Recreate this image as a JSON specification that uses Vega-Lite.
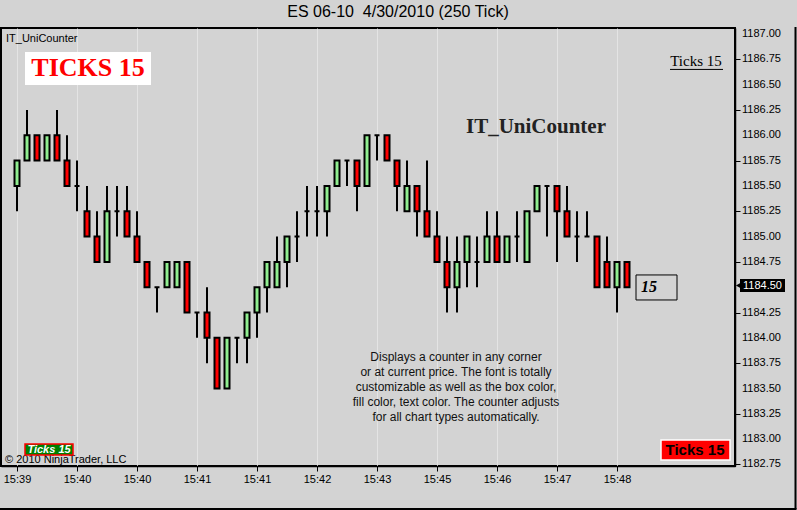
{
  "$schema": "https://vega.github.io/schema/vega-lite/v6.json",
  "width": 734,
  "height": 438,
  "autosize": {"type": "none"},
  "padding": {"left": 1, "top": 28, "right": 62, "bottom": 44},
  "background": "#D3D3D3",
  "title": {"text": "ES 06-10 \u00a04/30/2010 (250 Tick)", "fontSize": 16, "fontWeight": "normal", "font": "Liberation Sans", "color": "#000", "anchor": "middle", "frame": "group", "dx": 30, "offset": 6},
  "config": {
    "font": "Liberation Sans",
    "view": {"stroke": "#000", "strokeWidth": 2},
    "axis": {"labelColor": "#000", "domainColor": "#000", "tickColor": "#000", "labelFont": "Liberation Sans", "labelFontSize": 11, "labelOverlap": false, "labelFlush": false}
  },
  "datasets": {
    "priceTicks": [
      {"p":1182.75},{"p":1183},{"p":1183.25},{"p":1183.5},{"p":1183.75},{"p":1184},{"p":1184.25},{"p":1184.5},{"p":1184.75},
      {"p":1185},{"p":1185.25},{"p":1185.5},{"p":1185.75},{"p":1186},{"p":1186.25},{"p":1186.5},{"p":1186.75},{"p":1187}
    ]
  },
  "data": {"values": [
    {"i":0,"o":1185.5,"h":1185.75,"l":1185.25,"c":1185.75},
    {"i":1,"o":1185.75,"h":1186.25,"l":1185.75,"c":1186},
    {"i":2,"o":1186,"h":1186,"l":1185.75,"c":1185.75},
    {"i":3,"o":1185.75,"h":1186,"l":1185.75,"c":1186},
    {"i":4,"o":1186,"h":1186.25,"l":1185.75,"c":1185.75},
    {"i":5,"o":1185.75,"h":1186,"l":1185.5,"c":1185.5},
    {"i":6,"o":1185.5,"h":1185.75,"l":1185.25,"c":1185.5},
    {"i":7,"o":1185.25,"h":1185.5,"l":1185,"c":1185},
    {"i":8,"o":1185,"h":1185.25,"l":1184.75,"c":1184.75},
    {"i":9,"o":1184.75,"h":1185.5,"l":1184.75,"c":1185.25},
    {"i":10,"o":1185.25,"h":1185.5,"l":1185,"c":1185.25},
    {"i":11,"o":1185.25,"h":1185.5,"l":1185,"c":1185},
    {"i":12,"o":1185,"h":1185.25,"l":1184.75,"c":1184.75},
    {"i":13,"o":1184.75,"h":1184.75,"l":1184.5,"c":1184.5},
    {"i":14,"o":1184.5,"h":1184.5,"l":1184.25,"c":1184.5},
    {"i":15,"o":1184.5,"h":1184.75,"l":1184.5,"c":1184.75},
    {"i":16,"o":1184.5,"h":1184.75,"l":1184.5,"c":1184.75},
    {"i":17,"o":1184.75,"h":1184.75,"l":1184.25,"c":1184.25},
    {"i":18,"o":1184.25,"h":1184.25,"l":1184,"c":1184.25},
    {"i":19,"o":1184.25,"h":1184.5,"l":1183.75,"c":1184},
    {"i":20,"o":1184,"h":1184,"l":1183.5,"c":1183.5},
    {"i":21,"o":1183.5,"h":1184,"l":1183.5,"c":1184},
    {"i":22,"o":1184,"h":1184,"l":1183.75,"c":1184},
    {"i":23,"o":1184,"h":1184.25,"l":1183.75,"c":1184.25},
    {"i":24,"o":1184.25,"h":1184.5,"l":1184,"c":1184.5},
    {"i":25,"o":1184.5,"h":1184.75,"l":1184.25,"c":1184.75},
    {"i":26,"o":1184.5,"h":1185,"l":1184.5,"c":1184.75},
    {"i":27,"o":1184.75,"h":1185,"l":1184.5,"c":1185},
    {"i":28,"o":1185,"h":1185.25,"l":1184.75,"c":1185},
    {"i":29,"o":1185.25,"h":1185.5,"l":1185,"c":1185.25},
    {"i":30,"o":1185.25,"h":1185.5,"l":1185,"c":1185.25},
    {"i":31,"o":1185.25,"h":1185.5,"l":1185,"c":1185.5},
    {"i":32,"o":1185.5,"h":1185.75,"l":1185.5,"c":1185.75},
    {"i":33,"o":1185.75,"h":1185.75,"l":1185.5,"c":1185.75},
    {"i":34,"o":1185.75,"h":1185.75,"l":1185.25,"c":1185.5},
    {"i":35,"o":1185.5,"h":1186,"l":1185.5,"c":1186},
    {"i":36,"o":1186,"h":1186,"l":1185.75,"c":1186},
    {"i":37,"o":1186,"h":1186,"l":1185.75,"c":1185.75},
    {"i":38,"o":1185.75,"h":1185.75,"l":1185.25,"c":1185.5},
    {"i":39,"o":1185.25,"h":1185.75,"l":1185.25,"c":1185.5},
    {"i":40,"o":1185.5,"h":1185.5,"l":1185,"c":1185.25},
    {"i":41,"o":1185.25,"h":1185.75,"l":1185,"c":1185},
    {"i":42,"o":1185,"h":1185.25,"l":1184.75,"c":1184.75},
    {"i":43,"o":1184.75,"h":1185,"l":1184.25,"c":1184.5},
    {"i":44,"o":1184.5,"h":1185,"l":1184.25,"c":1184.75},
    {"i":45,"o":1184.75,"h":1185,"l":1184.5,"c":1185},
    {"i":46,"o":1184.75,"h":1185,"l":1184.5,"c":1184.75},
    {"i":47,"o":1184.75,"h":1185.25,"l":1184.75,"c":1185},
    {"i":48,"o":1185,"h":1185.25,"l":1184.75,"c":1184.75},
    {"i":49,"o":1184.75,"h":1185,"l":1184.75,"c":1185},
    {"i":50,"o":1185,"h":1185.25,"l":1184.75,"c":1185},
    {"i":51,"o":1184.75,"h":1185.25,"l":1184.75,"c":1185.25},
    {"i":52,"o":1185.25,"h":1185.5,"l":1185.25,"c":1185.5},
    {"i":53,"o":1185.5,"h":1185.5,"l":1185,"c":1185.5},
    {"i":54,"o":1185.5,"h":1185.5,"l":1184.75,"c":1185.25},
    {"i":55,"o":1185.25,"h":1185.5,"l":1185,"c":1185},
    {"i":56,"o":1185,"h":1185.25,"l":1184.75,"c":1185},
    {"i":57,"o":1185,"h":1185.25,"l":1185,"c":1185},
    {"i":58,"o":1185,"h":1185,"l":1184.5,"c":1184.5},
    {"i":59,"o":1184.75,"h":1185,"l":1184.5,"c":1184.5},
    {"i":60,"o":1184.5,"h":1184.75,"l":1184.25,"c":1184.75},
    {"i":61,"o":1184.75,"h":1184.75,"l":1184.5,"c":1184.5}
  ]},
  "layer": [
    {
      "mark": {"type": "rule", "color": "#000", "strokeWidth": 2},
      "encoding": {
        "x": {"field": "i", "type": "quantitative",
              "scale": {"domain": [-1.6, 71.8], "zero": false, "nice": false, "padding": 0},
              "axis": {"orient": "bottom", "title": null, "values": [0,6,12,18,24,30,36,42,48,54,60], "labelExpr": "['15:39','15:40','15:40','15:41','15:41','15:42','15:43','15:45','15:46','15:47','15:48'][round(datum.value/6)]", "grid": true, "gridColor": "#E4E4E4", "gridWidth": 1, "tickSize": 5, "labelPadding": 2, "domainWidth": 1.5, "labelOverlap": false, "labelFlush": false}},
        "y": {"field": "l", "type": "quantitative",
              "scale": {"domain": [1182.735, 1187.059], "zero": false, "nice": false},
              "axis": {"orient": "right", "title": null, "values": [1182.75,1183,1183.25,1183.5,1183.75,1184,1184.25,1184.5,1184.75,1185,1185.25,1185.5,1185.75,1186,1186.25,1186.5,1186.75,1187], "labels": false, "grid": false, "tickSize": 5, "domainWidth": 1.5}},
        "y2": {"field": "h"}
      }
    },
    {
      "mark": {"type": "bar", "size": 5, "stroke": "#000", "strokeWidth": 2},
      "encoding": {
        "x": {"field": "i", "type": "quantitative"},
        "y": {"field": "o", "type": "quantitative"},
        "y2": {"field": "c"},
        "fill": {"condition": {"test": "datum.c >= datum.o", "value": "#90EE90"}, "value": "#FF0000"}
      }
    },
    {
      "data": {"name": "priceTicks"},
      "mark": {"type": "text", "font": "Liberation Sans", "fontSize": 11, "align": "left", "baseline": "middle", "color": "#000"},
      "encoding": {
        "x": {"datum": 72.5, "type": "quantitative"},
        "y": {"field": "p", "type": "quantitative"},
        "text": {"field": "p", "type": "quantitative", "format": ".2f"}
      }
    },
    {
      "data": {"values": [{}]},
      "mark": {"type": "rule", "color": "#000", "strokeWidth": 2},
      "encoding": {"x": {"datum": 77.85, "type": "quantitative"}, "y": {"datum": 1187.069, "type": "quantitative"}, "y2": {"datum": 1182.311}}
    },
    {
      "data": {"values": [{}]},
      "mark": {"type": "rule", "color": "#000", "strokeWidth": 2},
      "encoding": {"x": {"datum": -1.8, "type": "quantitative"}, "x2": {"datum": 77.95}, "y": {"datum": 1182.311, "type": "quantitative"}}
    },
    {
      "data": {"values": [{}]},
      "mark": {"type": "text", "text": "IT_UniCounter", "font": "Liberation Sans", "fontSize": 11, "align": "left", "baseline": "middle", "color": "#000"},
      "encoding": {"x": {"datum": -1.1, "type": "quantitative"}, "y": {"datum": 1186.951, "type": "quantitative"}}
    },
    {
      "data": {"values": [{}]},
      "mark": {"type": "rect", "fill": "#FFFFFF"},
      "encoding": {"x": {"datum": 0.8, "type": "quantitative"}, "x2": {"datum": 13.4}, "y": {"datum": 1186.822, "type": "quantitative"}, "y2": {"datum": 1186.497}}
    },
    {
      "data": {"values": [{}]},
      "mark": {"type": "text", "text": "TICKS 15", "font": "Liberation Serif", "fontWeight": "bold", "fontSize": 26, "align": "center", "baseline": "middle", "color": "#FF0000"},
      "encoding": {"x": {"datum": 7.1, "type": "quantitative"}, "y": {"datum": 1186.664, "type": "quantitative"}}
    },
    {
      "data": {"values": [{}]},
      "mark": {"type": "text", "text": "Ticks 15", "font": "Liberation Serif", "fontSize": 15, "align": "center", "baseline": "middle", "color": "#000"},
      "encoding": {"x": {"datum": 67.9, "type": "quantitative"}, "y": {"datum": 1186.733, "type": "quantitative"}}
    },
    {
      "data": {"values": [{}]},
      "mark": {"type": "rule", "color": "#000", "strokeWidth": 1},
      "encoding": {"x": {"datum": 65.3, "type": "quantitative"}, "x2": {"datum": 70.6}, "y": {"datum": 1186.650, "type": "quantitative"}}
    },
    {
      "data": {"values": [{}]},
      "mark": {"type": "text", "text": "IT_UniCounter", "font": "Liberation Serif", "fontWeight": "bold", "fontSize": 21, "align": "center", "baseline": "middle", "color": "#222222"},
      "encoding": {"x": {"datum": 51.9, "type": "quantitative"}, "y": {"datum": 1186.082, "type": "quantitative"}}
    },
    {
      "data": {"values": [{}]},
      "mark": {"type": "text", "text": ["Displays a counter in any corner", "or at current price. The font is totally", "customizable as well as the box color,", "fill color, text color. The counter adjusts", "for all chart types automatically."], "font": "Liberation Sans", "fontSize": 12, "lineHeight": 15, "align": "center", "baseline": "middle", "color": "#111111"},
      "encoding": {"x": {"datum": 43.9, "type": "quantitative"}, "y": {"datum": 1183.808, "type": "quantitative"}}
    },
    {
      "data": {"values": [{}]},
      "mark": {"type": "rect", "fill": "#D3D3D3", "stroke": "#000", "strokeWidth": 1},
      "encoding": {"x": {"datum": 61.9, "type": "quantitative"}, "x2": {"datum": 66.0}, "y": {"datum": 1184.621, "type": "quantitative"}, "y2": {"datum": 1184.374}}
    },
    {
      "data": {"values": [{}]},
      "mark": {"type": "text", "text": "15", "font": "Liberation Serif", "fontWeight": "bold", "fontStyle": "italic", "fontSize": 16, "align": "left", "baseline": "middle", "color": "#000"},
      "encoding": {"x": {"datum": 62.4, "type": "quantitative"}, "y": {"datum": 1184.498, "type": "quantitative"}}
    },
    {
      "data": {"values": [{}]},
      "mark": {"type": "rect", "fill": "#000"},
      "encoding": {"x": {"datum": 72.3, "type": "quantitative"}, "x2": {"datum": 76.8}, "y": {"datum": 1184.581, "type": "quantitative"}, "y2": {"datum": 1184.453}}
    },
    {
      "data": {"values": [{}]},
      "mark": {"type": "point", "shape": "triangle-left", "filled": true, "size": 50, "color": "#000", "opacity": 1},
      "encoding": {"x": {"datum": 72.2, "type": "quantitative"}, "y": {"datum": 1184.517, "type": "quantitative"}}
    },
    {
      "data": {"values": [{}]},
      "mark": {"type": "text", "text": "1184.50", "font": "Liberation Sans", "fontSize": 11, "align": "left", "baseline": "middle", "color": "#FFFFFF"},
      "encoding": {"x": {"datum": 72.6, "type": "quantitative"}, "y": {"datum": 1184.512, "type": "quantitative"}}
    },
    {
      "data": {"values": [{}]},
      "mark": {"type": "text", "text": "© 2010 NinjaTrader, LLC", "font": "Liberation Sans", "fontSize": 11, "align": "left", "baseline": "middle", "color": "#000"},
      "encoding": {"x": {"datum": -1.2, "type": "quantitative"}, "y": {"datum": 1182.79, "type": "quantitative"}}
    },
    {
      "data": {"values": [{}]},
      "mark": {"type": "rect", "fill": "#008000", "stroke": "#FF0000", "strokeWidth": 1.5},
      "encoding": {"x": {"datum": 0.8, "type": "quantitative"}, "x2": {"datum": 5.6}, "y": {"datum": 1182.953, "type": "quantitative"}, "y2": {"datum": 1182.844}}
    },
    {
      "data": {"values": [{}]},
      "mark": {"type": "text", "text": "Ticks 15", "font": "Liberation Sans", "fontWeight": "bold", "fontStyle": "italic", "fontSize": 11, "align": "center", "baseline": "middle", "color": "#FFFFFF"},
      "encoding": {"x": {"datum": 3.2, "type": "quantitative"}, "y": {"datum": 1182.897, "type": "quantitative"}}
    },
    {
      "data": {"values": [{}]},
      "mark": {"type": "rect", "fill": "#FF0000", "stroke": "#FFFFFF", "strokeWidth": 1.5},
      "encoding": {"x": {"datum": 64.4, "type": "quantitative"}, "x2": {"datum": 71.3}, "y": {"datum": 1182.992, "type": "quantitative"}, "y2": {"datum": 1182.795}}
    },
    {
      "data": {"values": [{}]},
      "mark": {"type": "text", "text": "Ticks 15", "font": "Liberation Sans", "fontWeight": "bold", "fontSize": 15, "align": "center", "baseline": "middle", "color": "#000"},
      "encoding": {"x": {"datum": 67.8, "type": "quantitative"}, "y": {"datum": 1182.889, "type": "quantitative"}}
    }
  ]
}
